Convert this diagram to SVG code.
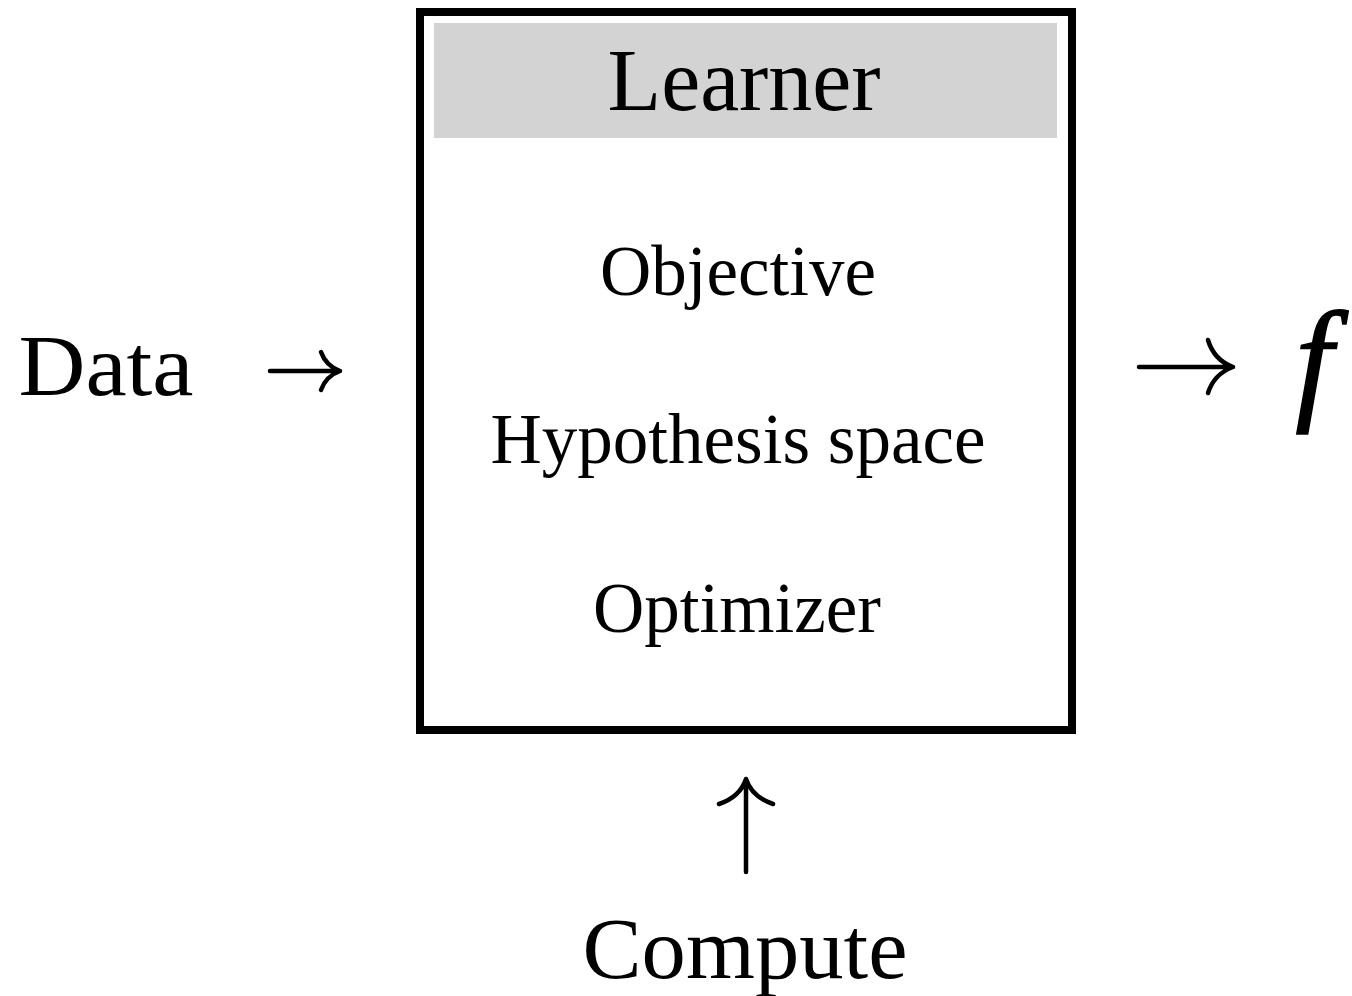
<svg xmlns="http://www.w3.org/2000/svg" width="1352" height="996" viewBox="0 0 1352 996">
<style>
.t{font-family:"Liberation Serif","DejaVu Serif",serif;fill:#000;text-anchor:middle}
.c{fill:none;stroke:#000;stroke-width:4.5;stroke-linecap:round;stroke-linejoin:round}
</style>
<rect width="1352" height="996" fill="#fff"/>
<g id="learner">
<rect x="420" y="12" width="652" height="718" fill="#fff" stroke="#000" stroke-width="8"/>
<rect x="434" y="23" width="623" height="115" fill="#d3d3d3"/>
<text class="t" x="744" y="110" font-size="88" textLength="273" lengthAdjust="spacingAndGlyphs">Learner</text>
<text class="t" x="738" y="295" font-size="72" textLength="276" lengthAdjust="spacingAndGlyphs">Objective</text>
<text class="t" x="738" y="463" font-size="72" textLength="495" lengthAdjust="spacingAndGlyphs">Hypothesis space</text>
<text class="t" x="737" y="632" font-size="72" textLength="288" lengthAdjust="spacingAndGlyphs">Optimizer</text>
</g>
<g id="data"><text class="t" x="106" y="395" font-size="86" textLength="175" lengthAdjust="spacingAndGlyphs">Data</text></g>
<g id="output"><text class="t" x="1314" y="405" font-size="135" font-style="italic" stroke="#000" stroke-width="1.5">f</text></g>
<g id="compute"><text class="t" x="745" y="978" font-size="86" textLength="325" lengthAdjust="spacingAndGlyphs">Compute</text></g>
<g id="connectors">
<path class="c" d="M270 371H340M321 352Q326 366 340 371Q326 376 321 390"/>
<path class="c" d="M1139 367H1233M1208 340Q1214 360 1233 367Q1214 374 1208 393"/>
<path class="c" d="M746 872V779M719 804Q740 797 746 779Q752 797 773 804"/>
</g>
</svg>
